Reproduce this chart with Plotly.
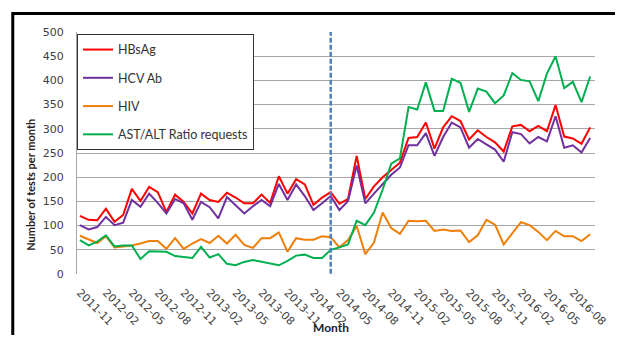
import plotly.graph_objects as go

# ---- data ----
months = []
y, m = 2011, 11
for _ in range(60):
    months.append(f"{y}-{m:02d}")
    m += 1
    if m > 12:
        m = 1
        y += 1

hbsag = [120, 112, 111, 135, 108, 122, 176, 151, 180, 169, 128, 164, 149, 125, 166, 153, 149, 168, 158, 146,
         146, 164, 147, 202, 166, 196, 185, 143, 158, 169, 145, 155, 244, 155, 181, 200, 215, 230, 281, 283,
         313, 259, 303, 326, 316, 278, 297, 283, 272, 253, 305, 308, 295, 306, 295, 349, 284, 280, 269, 303]
hcv_ab = [101, 92, 97, 118, 101, 106, 153, 139, 166, 147, 125, 155, 146, 112, 149, 138, 115, 159, 142, 125,
          140, 153, 140, 186, 153, 185, 161, 132, 146, 161, 132, 151, 224, 146, 166, 185, 205, 220, 266, 266,
          291, 244, 283, 313, 303, 261, 279, 268, 257, 232, 293, 289, 270, 283, 274, 326, 261, 266, 251, 281]
hiv = [79, 71, 64, 78, 55, 57, 59, 63, 68, 68, 52, 74, 52, 63, 72, 64, 79, 63, 81, 60,
       54, 74, 74, 86, 46, 74, 71, 71, 78, 76, 55, 70, 99, 41, 65, 127, 95, 83, 110, 109,
       110, 89, 92, 89, 90, 66, 80, 112, 102, 61, 83, 107, 101, 87, 70, 89, 78, 78, 68, 82]
ast_alt = [70, 59, 67, 80, 57, 59, 59, 31, 47, 46, 46, 37, 35, 33, 56, 34, 41, 21, 18, 25,
           29, 25, 21, 18, 27, 38, 40, 33, 33, 50, 55, 61, 110, 101, 127, 174, 228, 239, 345, 340,
           396, 337, 337, 403, 395, 335, 383, 377, 353, 369, 415, 401, 398, 357, 414, 450, 384, 397, 355, 408]

tick_labels = months[::3]
event_month = "2014-04"

series = [
    ("HBsAg", hbsag, "#ff0000"),
    ("HCV Ab", hcv_ab, "#7030a0"),
    ("HIV", hiv, "#f07f09"),
    ("AST/ALT Ratio requests", ast_alt, "#00b050"),
]

idx = list(range(len(months)))
fig = go.Figure()
for i, (name, vals, col) in enumerate(series):
    fig.add_trace(go.Scatter(
        x=idx, y=vals, mode="lines", name=name,
        line=dict(color=col, width=2), legendgroup=f"g{i}",
    ))

ev = months.index(event_month)
fig.add_shape(type="line", xref="x", yref="y", x0=ev, x1=ev, y0=-14, y1=514,
              line=dict(color="#4f81bd", width=2.5, dash="5px,2px"))

# outer frame (extends past the right/bottom edges)
fig.add_shape(type="rect", xref="paper", yref="paper",
              x0=-0.124, x1=1.1, y0=-0.4, y1=1.076,
              line=dict(color="black", width=3), fillcolor="rgba(0,0,0,0)", layer="above")

tick_font = dict(family="DejaVu Sans", size=11, color="#404040")
# the page body adds an 8px margin, so the figure is 16px smaller than the window
fig.update_layout(
    width=607, height=327,
    margin=dict(l=69, r=7, t=24, b=59),
    paper_bgcolor="white", plot_bgcolor="white",
    xaxis=dict(
        range=[-0.34, 59.56], tickmode="array",
        tickvals=[months.index(t) for t in tick_labels], ticktext=tick_labels,
        tickangle=45, tickfont=tick_font, showgrid=False, zeroline=False,
        showline=False, ticks="", ticklabelstandoff=9, ticklabeloverflow="allow",
    ),
    yaxis=dict(
        range=[0, 500], dtick=50, tickfont=tick_font,
        showgrid=True, gridcolor="#a6a6a6", gridwidth=1, zeroline=False,
        showline=True, linecolor="#a6a6a6", linewidth=1, ticks="",
        ticklabelstandoff=10,
    ),
    legend=dict(
        x=0, y=0.992, xanchor="left", yanchor="top",
        bgcolor="white", bordercolor="#333333", borderwidth=1,
        font=dict(family="Lato", size=12.5, color="#333333"),
        tracegroupgap=9, traceorder="grouped",
    ),
    showlegend=True,
    annotations=[
        dict(text="<b>Number of tests per month</b>", xref="paper", yref="paper",
             x=-0.09, y=0.37, textangle=-90, showarrow=False, xanchor="center", yanchor="middle",
             font=dict(family="Lato", size=11, color="#222222")),
        dict(text="<b>Month</b>", xref="paper", yref="paper",
             x=0.49, y=-0.221, showarrow=False, xanchor="center", yanchor="middle",
             font=dict(family="Lato", size=12, color="#222222")),
    ],
)

fig.write_html("out.html")
